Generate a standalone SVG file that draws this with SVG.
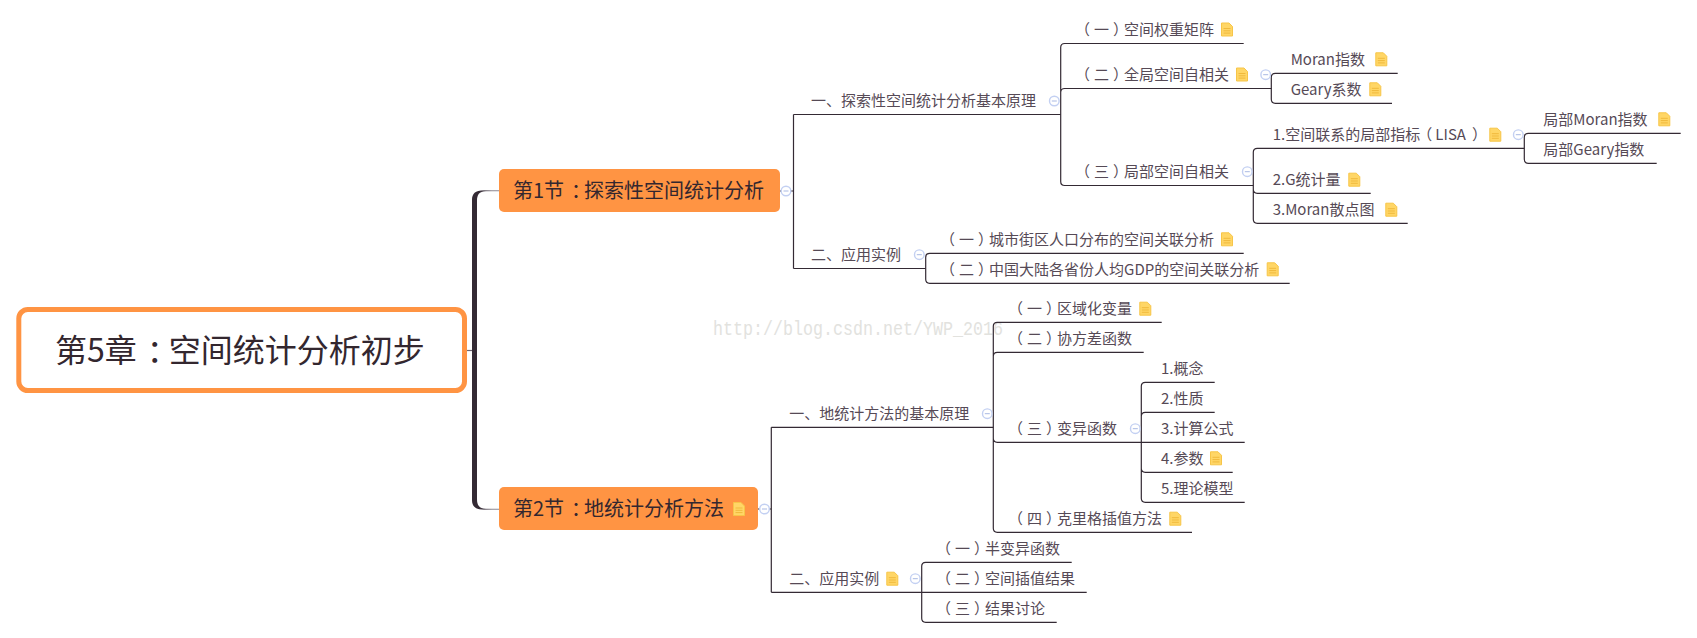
<svg xmlns="http://www.w3.org/2000/svg" width="1697" height="638" viewBox="0 0 1697 638">
<style>
text{font-family:"Noto Sans CJK SC","Noto Sans",sans-serif;fill:#564a56;font-size:15px;dominant-baseline:central}
.wm{font-family:"Liberation Mono",monospace;font-size:20px;fill:#e2e2de}
.t2{font-size:20px;fill:#33272f}
.t1{font-size:32px;fill:#33272f}
.ln{fill:none;stroke:#342a34;stroke-width:1.2}
.c{fill:#fff;stroke:#c3d0f2;stroke-width:1.4}
.m{stroke:#a9b9e3;stroke-width:1}
</style>
<defs>
<linearGradient id="tr" gradientUnits="userSpaceOnUse" x1="479" y1="0" x2="492" y2="0"><stop offset="0" stop-color="#342a34"/><stop offset="1" stop-color="#8d8791"/></linearGradient>
<g id="note"><path d="M.5 .5H8L11.500 4V13.500H.5Z" fill="#ffd666" stroke="#f7c548"/><path d="M2.500 6H9.500M2.500 8.300H9.500M2.500 10.600H9.500" stroke="#f0b93c" stroke-width="1"/></g>
<g id="col"><circle class="c" r="4.800"/><path class="m" d="M-2.500 0H2.500"/></g>
</defs>
<text class="wm" x="713" y="329" textLength="290" lengthAdjust="spacingAndGlyphs">http://blog.csdn.net/YWP_2016</text>
<g id="connectors">
<path d="M467 350.500H475" stroke="#6e6570" stroke-width="1.2" fill="none"/>
<path d="M499 190.300H484C475 190.300 472 194 472 200V500C472 506 475 509.700 484 509.700H499V508.700H486C479 508.700 477 505 477 499V201C477 195 479 191.300 486 191.300H499Z" fill="url(#tr)"/>
<path class="ln" d="M780 191H793.500M758 509H771.300"/>
<path class="ln" d="M793.500 114.500V268.500M793.500 114.500H1060.700M793.500 268.500H925.700"/>
<path class="ln" d="M1243.700 43.500H1064.700Q1060.700 43.500 1060.700 47.500V181.500Q1060.700 185.500 1064.700 185.500H1253.300M1271.500 88.500H1064.700Q1060.700 88.500 1060.700 92.500"/>
<path class="ln" d="M1397.700 73.300H1275.300Q1271.300 73.300 1271.300 77.300V99.300Q1271.300 103.300 1275.300 103.300H1392"/>
<path class="ln" d="M1524.300 148.300H1257.300Q1253.300 148.300 1253.300 152.300V219.300Q1253.300 223.300 1257.300 223.300H1407.700M1370.700 193.300H1257.300Q1253.300 193.300 1253.300 189.300"/>
<path class="ln" d="M1680.700 133.300H1528.300Q1524.300 133.300 1524.300 137.300V159.300Q1524.300 163.300 1528.300 163.300H1656.700"/>
<path class="ln" d="M1243.700 253.300H929.700Q925.700 253.300 925.700 257.300V279.300Q925.700 283.300 929.700 283.300H1289.700"/>
<path class="ln" d="M771.300 427.300V592.300M771.300 427.300H993.300M771.300 592.300H921.700"/>
<path class="ln" d="M1161.700 322.300H997.300Q993.300 322.300 993.300 326.300V528.300Q993.300 532.300 997.300 532.300H1192M1143.700 352.300H997.300Q993.300 352.300 993.300 356.300M1244.700 442.300H997.300Q993.300 442.300 993.300 438.300"/>
<path class="ln" d="M1214.700 382.300H1145.300Q1141.300 382.300 1141.300 386.300V498.300Q1141.300 502.300 1145.300 502.300H1244.700M1214.700 412.300H1145.300Q1141.300 412.300 1141.300 416.300M1232.700 472.300H1145.300Q1141.300 472.300 1141.300 468.300"/>
<path class="ln" d="M1071.700 562.300H925.700Q921.700 562.300 921.700 566.300V618.300Q921.700 622.300 925.700 622.300H1056.700M1086.700 592.300H921.700"/>
</g>
<g id="root"><rect x="18.800" y="309.500" width="445.700" height="81" rx="9" fill="#fff" stroke="#ff9443" stroke-width="5"/><text class="t1" x="55" y="348" dx="0 0 0 10 -10">第5章：空间统计分析初步</text></g>
<g id="s1"><rect x="499" y="169" width="281" height="43" rx="5" fill="#ff9443"/><text class="t2" x="513" y="189.500" dx="0 0 0 7 -7">第1节：探索性空间统计分析</text><use href="#col" x="786" y="191"/></g>
<g id="s2"><rect x="499" y="487" width="259" height="43" rx="5" fill="#ff9443"/><text class="t2" x="513" y="507.500" dx="0 0 0 7 -7">第2节：地统计分析方法</text><use href="#note" x="733" y="502"/><use href="#col" x="764.500" y="509"/></g>
<g id="a1"><text x="811" y="99.700">一、探索性空间统计分析基本原理</text><use href="#col" x="1054.300" y="101"/></g>
<g id="a2"><text x="811" y="253.500">二、应用实例</text><use href="#col" x="919.300" y="254.700"/></g>
<g id="b1"><text x="1079" y="28.500" dx="-4 4 4 -4">（一）空间权重矩阵</text><use href="#note" x="1221" y="22.500"/></g>
<g id="b2"><text x="1079" y="73.500" dx="-4 4 4 -4">（二）全局空间自相关</text><use href="#note" x="1236" y="67.500"/><use href="#col" x="1265.700" y="74.700"/></g>
<g id="b3"><text x="1079" y="170.500" dx="-4 4 4 -4">（三）局部空间自相关</text><use href="#col" x="1247.300" y="171.700"/></g>
<g id="c1"><text x="1290.700" y="58.300">Moran指数</text><use href="#note" x="1375.300" y="52.300"/></g>
<g id="c2"><text x="1290.700" y="88.300">Geary系数</text><use href="#note" x="1369.300" y="82.300"/></g>
<g id="d1"><text x="1272.700" y="133.700" dx="0 0 0 0 0 0 0 0 0 0 0 -3 3 0 0 0 6">1.空间联系的局部指标（LISA）</text><use href="#note" x="1489.300" y="127.700"/><use href="#col" x="1518.300" y="134.700"/></g>
<g id="d2"><text x="1272.700" y="178.700">2.G统计量</text><use href="#note" x="1348.300" y="172.700"/></g>
<g id="d3"><text x="1272.700" y="208.700">3.Moran散点图</text><use href="#note" x="1385.300" y="202.700"/></g>
<g id="e1"><text x="1543.300" y="118.300">局部Moran指数</text><use href="#note" x="1658.300" y="112.300"/></g>
<g id="e2"><text x="1543.300" y="148.300">局部Geary指数</text></g>
<g id="f1"><text x="944" y="238.500" dx="-4 4 4 -4">（一）城市街区人口分布的空间关联分析</text><use href="#note" x="1221" y="232.300"/></g>
<g id="f2"><text x="944" y="268.500" dx="-4 4 4 -4">（二）中国大陆各省份人均GDP的空间关联分析</text><use href="#note" x="1266.700" y="262.300"/></g>
<g id="g1"><text x="789.300" y="412.500">一、地统计方法的基本原理</text><use href="#col" x="987.300" y="413.700"/></g>
<g id="g2"><text x="789.300" y="577.500">二、应用实例</text><use href="#note" x="886.300" y="571.700"/><use href="#col" x="915.300" y="578.700"/></g>
<g id="h1"><text x="1012" y="307.700" dx="-4 4 4 -4">（一）区域化变量</text><use href="#note" x="1139.300" y="301.700"/></g>
<g id="h2"><text x="1012" y="337.700" dx="-4 4 4 -4">（二）协方差函数</text></g>
<g id="h3"><text x="1012" y="427.700" dx="-4 4 4 -4">（三）变异函数</text><use href="#col" x="1135.300" y="428.700"/></g>
<g id="h4"><text x="1012" y="517.700" dx="-4 4 4 -4">（四）克里格插值方法</text><use href="#note" x="1169.300" y="511.700"/></g>
<g id="i1"><text x="1161" y="367.700">1.概念</text></g>
<g id="i2"><text x="1161" y="397.700">2.性质</text></g>
<g id="i3"><text x="1161" y="427.700">3.计算公式</text></g>
<g id="i4"><text x="1161" y="457.700">4.参数</text><use href="#note" x="1210" y="451.300"/></g>
<g id="i5"><text x="1161" y="487.700">5.理论模型</text></g>
<g id="j1"><text x="940" y="547.700" dx="-4 4 4 -4">（一）半变异函数</text></g>
<g id="j2"><text x="940" y="577.700" dx="-4 4 4 -4">（二）空间插值结果</text></g>
<g id="j3"><text x="940" y="607.700" dx="-4 4 4 -4">（三）结果讨论</text></g>
</svg>
